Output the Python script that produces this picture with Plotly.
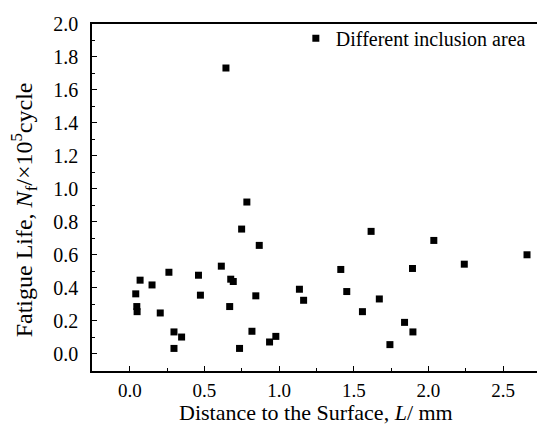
import plotly.graph_objects as go

distance_mm = [0.04, 0.047, 0.049, 0.069, 0.149, 0.204, 0.262, 0.296, 0.296, 0.347,
               0.46, 0.473, 0.613, 0.644, 0.669, 0.676, 0.693, 0.735, 0.749, 0.784,
               0.818, 0.844, 0.867, 0.936, 0.978, 1.136, 1.164, 1.413, 1.453, 1.558,
               1.616, 1.671, 1.742, 1.84, 1.893, 1.896, 2.036, 2.24, 2.66]
fatigue_life = [0.363, 0.286, 0.255, 0.446, 0.417, 0.247, 0.494, 0.132, 0.032, 0.101,
                0.476, 0.355, 0.531, 1.733, 0.286, 0.452, 0.438, 0.032, 0.756, 0.92,
                0.136, 0.351, 0.657, 0.071, 0.105, 0.391, 0.324, 0.511, 0.377, 0.255,
                0.742, 0.332, 0.055, 0.19, 0.517, 0.132, 0.687, 0.543, 0.6]
x_tick_vals = [0, 0.5, 1.0, 1.5, 2.0, 2.5]
x_tick_text = ["0.0", "0.5", "1.0", "1.5", "2.0", "2.5"]
x_title = "Distance to the Surface, <i>L</i>/ mm"
y_title = "Fatigue Life, <i>N</i><sub>f</sub>/×10<sup>5</sup>cycle"

font = "Liberation Serif"

fig = go.Figure()
fig.add_trace(go.Scatter(
    x=distance_mm, y=fatigue_life, mode="markers",
    name="Different inclusion area",
    marker=dict(symbol="square", size=7, color="black"),
))

fig.update_xaxes(
    showline=True, linecolor="black", linewidth=1.5, mirror=True,
    ticks="inside", ticklen=5, tickwidth=1, tickcolor="black",
    showgrid=False, zeroline=False,
    tickfont=dict(family=font, size=19, color="black"),
    ticklabelstandoff=1,
    range=[-0.253, 2.747], tickvals=x_tick_vals, ticktext=x_tick_text,
    minor=dict(tickvals=[0.25, 0.75, 1.25, 1.75, 2.25], ticks="inside", ticklen=3, tickcolor="black"),
)
fig.update_yaxes(
    showline=True, linecolor="black", linewidth=1.5, mirror=True,
    ticks="inside", ticklen=5, tickwidth=1, tickcolor="black",
    showgrid=False, zeroline=False,
    tickfont=dict(family=font, size=20, color="black"),
    ticklabelstandoff=8,
    range=[-0.105, 2.0], tick0=0, dtick=0.2, tickformat=".1f",
    minor=dict(tick0=0.1, dtick=0.2, ticks="inside", ticklen=3, tickcolor="black"),
)

fig.add_annotation(text=x_title, xref="paper", yref="paper", x=0.5, y=-0.121,
                   xanchor="center", yanchor="middle", showarrow=False,
                   font=dict(family=font, size=22, color="black"))
fig.add_annotation(text=y_title, xref="paper", yref="paper", x=-0.151, y=0.464,
                   xanchor="center", yanchor="middle", showarrow=False, textangle=-90,
                   font=dict(family=font, size=24, color="black"))

# the page body has an 8px margin, so the figure is offset by 8px
fig.update_layout(
    width=537, height=419,
    margin=dict(l=84, r=3, t=16, b=56),
    font=dict(family=font, size=20, color="black"),
    plot_bgcolor="white", paper_bgcolor="white",
    showlegend=True,
    legend=dict(x=0.455, y=1.015, xanchor="left", yanchor="top",
                bgcolor="rgba(0,0,0,0)",
                font=dict(family=font, size=20, color="black")),
)

fig.write_html("out.html")
